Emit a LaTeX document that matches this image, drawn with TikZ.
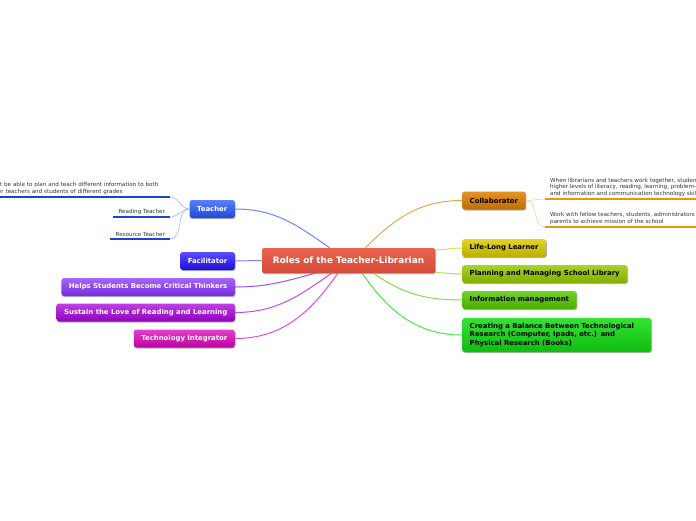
\documentclass[tikz,border=0pt]{standalone}
\usepackage{fontspec}
\setmainfont{DejaVu Sans}
\usetikzlibrary{shadows}
\definecolor{rootred}{HTML}{E8523C}
\definecolor{tblue}{HTML}{2255FF}
\definecolor{fblue}{HTML}{2211FF}
\definecolor{hpurple}{HTML}{8833FF}
\definecolor{smag}{HTML}{AA00DD}
\definecolor{tpink}{HTML}{DD00BB}
\definecolor{corange}{HTML}{E08000}
\definecolor{lyellow}{HTML}{DDCC00}
\definecolor{pgreen}{HTML}{99CC00}
\definecolor{igreen}{HTML}{55CC00}
\definecolor{cgreen}{HTML}{11DD11}
\definecolor{subgray}{HTML}{333333}

\tikzset{
  topic/.style={rounded corners=2.5pt, minimum height=18pt, inner xsep=7.5pt, inner ysep=0pt,
    font=\fontsize{6.9}{8.6}\selectfont\bfseries,
    drop shadow={shadow xshift=0.8pt, shadow yshift=-1pt, opacity=0.3, fill=black}},
  lefttopic/.style={topic, anchor=east, text=white, top color=#1!75!white, bottom color=#1!85!black},
  righttopic/.style={topic, anchor=west, text=black, top color=#1!85!white, bottom color=#1!85!black},
  subtext/.style={font=\fontsize{5.6}{6.7}\selectfont, text=subgray, inner xsep=5pt, inner ysep=2pt, align=left},
  uline/.style={line width=2.2pt},
  link/.style={line width=1pt},
  sublink/.style={line width=0.5pt}
}

\begin{document}
\begin{tikzpicture}[x=1pt, y=-1pt]
\useasboundingbox (0,0) rectangle (696,520);

%central topic:
\node[rounded corners=1.5pt, minimum width=173pt, minimum height=25pt, inner sep=0pt,
  top color=rootred!90!white, bottom color=rootred!92!black, text=white,
  font=\fontsize{8.9}{10}\selectfont\bfseries,
  drop shadow={shadow xshift=0.8pt, shadow yshift=-1pt, opacity=0.3, fill=black}]
  (root) at (348.5,260.5) {Roles of the Teacher-Librarian};

%left topics:
\node[lefttopic=tblue] (teacher) at (235,209) {Teacher};
\node[lefttopic=fblue] (facil) at (235,261) {Facilitator};
\node[lefttopic=hpurple] (helps) at (235,287) {Helps Students Become Critical Thinkers};
\node[lefttopic=smag] (sustain) at (235,312.5) {Sustain the Love of Reading and Learning};
\node[lefttopic=tpink] (techint) at (235,338.5) {Technology Integrator};

%right topics:
\node[righttopic=corange] (collab) at (462,200.5) {Collaborator};
\node[righttopic=lyellow] (lifelong) at (462,248) {Life-Long Learner};
\node[righttopic=pgreen] (planning) at (462,274) {Planning and Managing School Library};
\node[righttopic=igreen] (infoman) at (462,300) {Information management};
\node[righttopic=cgreen, minimum height=34pt, text width=174pt, align=left] (balance) at (462,335)
  {Creating a Balance Between Technological\\Research (Computer, Ipads, etc.) and\\Physical Research (Books)};

%links from the root:
\draw[link, tblue!70!white] (teacher.east) to[out=0, in=145] (root.146);
\draw[link, fblue!55!white] (facil.east) -- (root.west);
\draw[link, hpurple!85!white] (helps.east) to[out=0, in=195] (root.-159.5);
\draw[link, smag!70!white] (sustain.east) to[out=0, in=215] (root.-143);
\draw[link, tpink!70!white] (techint.east) to[out=0, in=235] (root.-130);
\draw[link, corange!70!white] (collab.west) to[out=180, in=45] (root.37);
\draw[link, lyellow!70!white] (lifelong.west) to[out=180, in=0] (root.7);
\draw[link, pgreen!70!white] (planning.west) to[out=180, in=0] (root.-8);
\draw[link, igreen!70!white] (infoman.west) to[out=180, in=-35] (root.-27);
\draw[link, cgreen!75!white] (balance.west) to[out=180, in=-55] (root.-43.5);

%teacher subtopics:
\node[subtext, anchor=south east, text width=176pt] (plan) at (170,197)
  {Must be able to plan and teach different information to both\\other teachers and students of different grades};
\node[subtext, anchor=south east] (reading) at (170,217) {Reading Teacher};
\node[subtext, anchor=south east] (resource) at (170,239) {Resource Teacher};
\foreach \s in {plan,reading,resource}{
  \draw[uline, tblue!80!black] (\s.south west) -- (\s.south east);
  \draw[sublink, tblue!50!white] (teacher.west) to[out=180, in=0] (\s.south east);
}

%collaborator subtopics:
\node[subtext, anchor=south west] (together) at (545,199)
  {When librarians and teachers work together, students achieve\\higher levels of literacy, reading, learning, problem-solving\\and information and communication technology skills.};
\node[subtext, anchor=south west] (fellow) at (545,227)
  {Work with fellow teachers, students, administrators and\\parents to achieve mission of the school};
\foreach \s in {together,fellow}{
  \draw[uline, corange!80!yellow] (\s.south west) -- (\s.south east);
  \draw[sublink, corange!45!white] (collab.east) to[out=0, in=180] (\s.south west);
}

\end{tikzpicture}
\end{document}
